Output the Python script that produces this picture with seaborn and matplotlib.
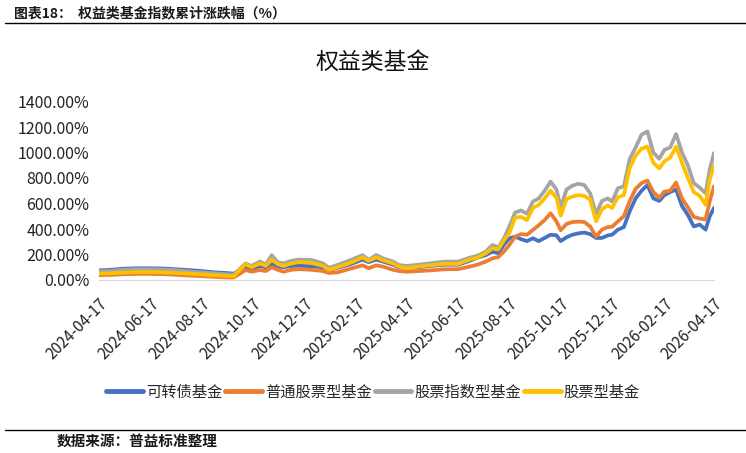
import pandas as pd
import matplotlib
matplotlib.use('Agg')
import matplotlib.pyplot as plt
from matplotlib.lines import Line2D
import seaborn as sns

# 日期（周度采样，手工读取）
dates = [
    '2024-04-17', '2024-05-01', '2024-05-15', '2024-06-01', '2024-06-17', '2024-07-01',
    '2024-07-15', '2024-08-01', '2024-08-17', '2024-09-01', '2024-09-15', '2024-09-24',
    '2024-10-08', '2024-10-15', '2024-10-25', '2024-11-01', '2024-11-08', '2024-11-15',
    '2024-11-22', '2024-12-01', '2024-12-10', '2024-12-25', '2025-01-08', '2025-01-15',
    '2025-01-25', '2025-02-10', '2025-02-24', '2025-03-03', '2025-03-12', '2025-03-20',
    '2025-04-01', '2025-04-08', '2025-04-17', '2025-05-01', '2025-05-15', '2025-06-01',
    '2025-06-17', '2025-07-01', '2025-07-10', '2025-07-20', '2025-07-28', '2025-08-04',
    '2025-08-11', '2025-08-17', '2025-08-24', '2025-08-31', '2025-09-07', '2025-09-14',
    '2025-09-21', '2025-09-28', '2025-10-05', '2025-10-12', '2025-10-17', '2025-10-24',
    '2025-10-31', '2025-11-07', '2025-11-14', '2025-11-21', '2025-11-28', '2025-12-05',
    '2025-12-12', '2025-12-17', '2025-12-24', '2025-12-31', '2026-01-07', '2026-01-14',
    '2026-01-21', '2026-01-28', '2026-02-04', '2026-02-11', '2026-02-17', '2026-02-24',
    '2026-03-03', '2026-03-10', '2026-03-17', '2026-03-24', '2026-03-31', '2026-04-07',
    '2026-04-12', '2026-04-17',
]

# 累计涨跌幅(%)
kzz = [
    75, 80, 88, 92, 92, 90, 85, 78, 70, 60, 55, 50,
    95, 85, 110, 100, 125, 105, 100, 110, 112, 108, 100, 80,
    95, 125, 160, 140, 160, 145, 120, 100, 95, 100, 110, 120,
    120, 150, 175, 195, 222, 210, 280, 327, 340, 320, 305, 327,
    305, 330, 355, 350, 305, 335, 355, 366, 372, 360, 330, 330,
    350, 355, 395, 415, 540, 640, 700, 745, 640, 620, 665, 690,
    710, 580, 510, 420, 435, 395, 500, 565,
]
ptgp = [
    38, 40, 45, 48, 48, 46, 42, 35, 30, 25, 20, 20,
    78, 65, 78, 70, 100, 80, 65, 80, 85, 80, 70, 55,
    60, 90, 115, 92, 115, 105, 80, 70, 65, 70, 75, 84,
    85, 105, 120, 144, 170, 180, 225, 275, 340, 360, 355, 392,
    430, 470, 523, 460, 390, 440, 455, 458, 455, 420, 340, 395,
    415, 418, 460, 500, 620, 715, 760, 780, 690, 645, 693, 700,
    765, 640, 570, 495, 482, 475, 620, 735,
]
zszs = [
    68, 72, 80, 85, 85, 82, 78, 68, 60, 52, 45, 42,
    130, 110, 145, 120, 195, 140, 130, 150, 160, 157, 130, 95,
    118, 157, 195, 157, 196, 170, 145, 118, 110, 120, 131, 144,
    144, 175, 190, 222, 275, 255, 330, 418, 530, 545, 520, 615,
    640, 700, 772, 710, 570, 710, 740, 755, 745, 680, 520, 620,
    640, 615, 720, 735, 950, 1040, 1140, 1165, 1000, 950, 1020, 1040,
    1145, 1000, 900, 760, 725, 680, 870, 995,
]
gpx = [
    50, 53, 58, 62, 62, 60, 56, 50, 44, 37, 32, 30,
    125, 100, 130, 110, 160, 125, 110, 130, 140, 135, 110, 80,
    100, 136, 178, 150, 178, 155, 130, 105, 92, 105, 115, 126,
    126, 160, 175, 209, 249, 240, 315, 366, 490, 495, 470, 565,
    589, 640, 700, 645, 505, 635, 655, 665, 660, 630, 460, 555,
    585, 565, 650, 665, 880, 975, 1030, 1047, 920, 875, 930, 960,
    1045, 920, 800, 690, 660, 590, 790, 900,
]

names = ['可转债基金', '普通股票型基金', '股票指数型基金', '股票型基金']
colors = ['#4472C4', '#ED7D31', '#A5A5A5', '#FFC000']
tick_labels = [
    '2024-04-17', '2024-06-17', '2024-08-17', '2024-10-17', '2024-12-17', '2025-02-17',
    '2025-04-17', '2025-06-17', '2025-08-17', '2025-10-17', '2025-12-17', '2026-02-17',
    '2026-04-17',
]
yticks = [0, 200, 400, 600, 800, 1000, 1200, 1400]

df = pd.DataFrame({'日期': pd.to_datetime(dates), names[0]: kzz, names[1]: ptgp,
                   names[2]: zszs, names[3]: gpx})
long_df = df.melt(id_vars='日期', var_name='基金', value_name='涨跌幅')

sns.set_style('white')
plt.rcParams['font.family'] = ['Noto Sans CJK SC', 'DejaVu Sans']

fig = plt.figure(figsize=(7.46, 4.53), dpi=100)
ax = fig.add_axes([99 / 746, 1 - 280 / 453, 615 / 746, 178.5 / 453])

sns.lineplot(data=long_df, x='日期', y='涨跌幅', hue='基金', hue_order=names,
             palette=colors, linewidth=2.7, ax=ax, legend=False)

ax.set_xlim(pd.Timestamp(tick_labels[0]), pd.Timestamp(tick_labels[-1]))
ax.set_ylim(0, 1400)
ax.set_yticks(yticks)
ax.set_yticklabels([f'{v:.2f}%' for v in yticks], fontsize=11.5, color='#222222')
ax.set_xticks(pd.to_datetime(tick_labels))
ax.set_xticklabels(tick_labels, rotation=45, ha='right', va='top',
                   rotation_mode='anchor', fontsize=11, color='#222222')
ax.set_xlabel('')
ax.set_ylabel('')
ax.tick_params(axis='y', length=0, pad=7)
ax.tick_params(axis='x', length=5, color='#D9D9D9', direction='out', pad=6)
for side in ['left', 'top', 'right']:
    ax.spines[side].set_visible(False)
ax.spines['bottom'].set_color('#D9D9D9')
ax.grid(False)

# 标题与图例
fig.text(0.5, 1 - 62 / 453, '权益类基金', ha='center', va='center', fontsize=16.5, color='#111111')
handles = [Line2D([0], [0], color=c, linewidth=3.5) for c in colors]
fig.legend(handles, names, loc='center', bbox_to_anchor=(0.5, 1 - 392 / 453), ncol=4,
           frameon=False, fontsize=11, handlelength=2.4, handletextpad=0.2,
           columnspacing=0.2)

# 页眉页脚
fig.text(14 / 746, 1 - 13 / 453, '图表18：  权益类基金指数累计涨跌幅（%）', ha='left', va='center',
         fontsize=10, fontweight='bold', color='#1a1a1a')
fig.add_artist(Line2D([5 / 746, 1], [1 - 23 / 453, 1 - 23 / 453], color='black', linewidth=1))
fig.add_artist(Line2D([5 / 746, 1], [1 - 430 / 453, 1 - 430 / 453], color='black', linewidth=1))
fig.text(57 / 746, 1 - 441 / 453, '数据来源：普益标准整理', ha='left', va='center',
         fontsize=10.5, fontweight='bold', color='#1a1a1a')

fig.savefig('out.png', dpi=100)
